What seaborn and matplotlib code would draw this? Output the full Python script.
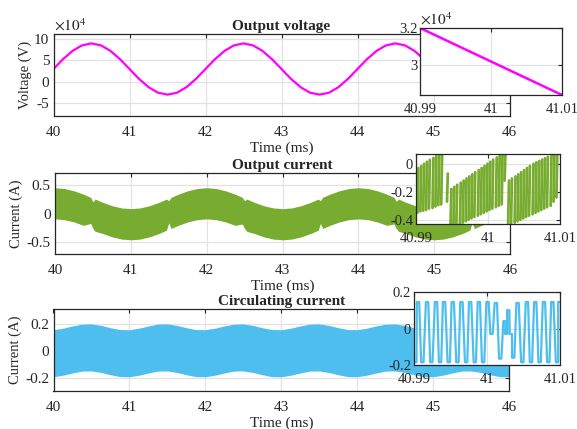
import matplotlib
matplotlib.use("Agg")
import matplotlib.pyplot as plt
import numpy as np
import pandas as pd
import seaborn as sns

# ---- data ------------------------------------------------------------------
# main traces, every 0.125 ms from 40 to 46 ms
time_ms = [40.0, 40.125, 40.25, 40.375, 40.5, 40.625, 40.75, 40.875,
           41.0, 41.125, 41.25, 41.375, 41.5, 41.625, 41.75, 41.875,
           42.0, 42.125, 42.25, 42.375, 42.5, 42.625, 42.75, 42.875,
           43.0, 43.125, 43.25, 43.375, 43.5, 43.625, 43.75, 43.875,
           44.0, 44.125, 44.25, 44.375, 44.5, 44.625, 44.75, 44.875,
           45.0, 45.125, 45.25, 45.375, 45.5, 45.625, 45.75, 45.875, 46.0]

# output voltage, x1e4 V
volt = [3.0, 5.3, 7.24, 8.54, 9.0, 8.54, 7.24, 5.3,
        3.0, 0.7, -1.24, -2.54, -3.0, -2.54, -1.24, 0.7,
        3.0, 5.3, 7.24, 8.54, 9.0, 8.54, 7.24, 5.3,
        3.0, 0.7, -1.24, -2.54, -3.0, -2.54, -1.24, 0.7,
        3.0, 5.3, 7.24, 8.54, 9.0, 8.54, 7.24, 5.3,
        3.0, 0.7, -1.24, -2.54, -3.0, -2.54, -1.24, 0.7, 3.0]

# output current envelope (A)
cur_hi = [0.46, 0.446, 0.406, 0.346, 0.275, 0.204, 0.144, 0.104,
          0.09, 0.104, 0.144, 0.204, 0.275, 0.346, 0.406, 0.446,
          0.46, 0.446, 0.406, 0.346, 0.275, 0.204, 0.144, 0.104,
          0.09, 0.104, 0.144, 0.204, 0.275, 0.346, 0.406, 0.446,
          0.46, 0.446, 0.406, 0.346, 0.275, 0.204, 0.144, 0.104,
          0.09, 0.104, 0.144, 0.204, 0.275, 0.346, 0.406, 0.446, 0.46]
cur_lo = [-0.09, -0.104, -0.144, -0.204, -0.275, -0.346, -0.406, -0.446,
          -0.46, -0.446, -0.406, -0.346, -0.275, -0.204, -0.144, -0.104,
          -0.09, -0.104, -0.144, -0.204, -0.275, -0.346, -0.406, -0.446,
          -0.46, -0.446, -0.406, -0.346, -0.275, -0.204, -0.144, -0.104,
          -0.09, -0.104, -0.144, -0.204, -0.275, -0.346, -0.406, -0.446,
          -0.46, -0.446, -0.406, -0.346, -0.275, -0.204, -0.144, -0.104, -0.09]

# little glitches in the current envelope around every half millisecond
notch_t = [40.47, 40.5, 40.53, 41.47, 41.5, 41.53, 42.47, 42.5, 42.53,
           43.47, 43.5, 43.53, 44.47, 44.5, 44.53, 45.47, 45.5, 45.53]
notch_hi = [0.29, 0.21, 0.26, 0.26, 0.23, 0.29, 0.29, 0.23, 0.26,
            0.26, 0.23, 0.29, 0.29, 0.22, 0.26, 0.26, 0.23, 0.29]
notch_lo = [-0.17, -0.26, -0.31, -0.29, -0.16, -0.26, -0.18, -0.26, -0.31,
            -0.29, -0.17, -0.26, -0.18, -0.26, -0.31, -0.29, -0.16, -0.26]

# circulating current envelope (A)
circ_hi = [0.156, 0.167, 0.184, 0.197, 0.199, 0.188, 0.171, 0.157,
           0.156, 0.167, 0.184, 0.197, 0.199, 0.188, 0.171, 0.157,
           0.156, 0.167, 0.184, 0.197, 0.199, 0.188, 0.171, 0.157,
           0.156, 0.167, 0.184, 0.197, 0.199, 0.188, 0.171, 0.157,
           0.156, 0.167, 0.184, 0.197, 0.199, 0.188, 0.171, 0.157,
           0.156, 0.167, 0.184, 0.197, 0.199, 0.188, 0.171, 0.157, 0.156]
circ_lo = [-0.194, -0.183, -0.166, -0.152, -0.151, -0.162, -0.179, -0.193,
           -0.194, -0.183, -0.166, -0.152, -0.151, -0.162, -0.179, -0.193,
           -0.194, -0.183, -0.166, -0.152, -0.151, -0.162, -0.179, -0.193,
           -0.194, -0.183, -0.166, -0.152, -0.151, -0.162, -0.179, -0.193,
           -0.194, -0.183, -0.166, -0.152, -0.151, -0.162, -0.179, -0.193,
           -0.194, -0.183, -0.166, -0.152, -0.151, -0.162, -0.179, -0.193, -0.194]

# zoomed voltage 40.99 .. 41.01 ms (x1e4 V)
zv_t = [40.99, 41.0, 41.01]
zv_v = [3.2, 3.02, 2.84]

# zoomed output current: one switching spike per entry
zi_t = [40.9902, 40.9906, 40.9910, 40.9914, 40.9918, 40.9923, 40.9927, 40.9931, 40.9935,
        40.9943,
        40.9948, 40.9952, 40.9956, 40.9961, 40.9965, 40.9969, 40.9973, 40.9977, 40.9981,
        40.9986, 40.9990, 40.9994, 40.9998, 41.0002, 41.0006, 41.0011, 41.0015, 41.0019, 41.0023,
        41.0028, 41.0032, 41.0037, 41.0041, 41.0045, 41.0049, 41.0053, 41.0057, 41.0062,
        41.0066, 41.0070, 41.0074, 41.0078, 41.0082, 41.0087, 41.0091, 41.0095]
zi_hi = [-0.03, -0.016, 0.0, 0.014, 0.028, 0.042, 0.056, 0.066, 0.066,
         -0.07,
         -0.18, -0.165, -0.15, -0.135, -0.12, -0.105, -0.09, -0.075, -0.06,
         -0.045, -0.03, -0.015, 0.0, 0.015, 0.03, 0.045, 0.06, 0.07, 0.07,
         -0.12, -0.105, -0.09, -0.075, -0.06, -0.045, -0.03, -0.015, 0.0,
         0.01, 0.02, 0.03, 0.04, 0.05, 0.06, 0.07, 0.07]
zi_lo = [-0.35, -0.34, -0.335, -0.33, -0.32, -0.315, -0.305, -0.295, -0.29,
         -0.27,
         -0.43, -0.43, -0.43, -0.43, -0.42, -0.41, -0.40, -0.39, -0.38,
         -0.37, -0.36, -0.35, -0.34, -0.33, -0.32, -0.31, -0.30, -0.29, -0.12,
         -0.43, -0.43, -0.42, -0.41, -0.40, -0.39, -0.38, -0.37, -0.36,
         -0.35, -0.34, -0.33, -0.32, -0.31, -0.30, -0.27, -0.24]

# zoomed circulating current: turning points of the oscillation
zc_t = [40.99018, 40.99055, 40.99114, 40.99179, 40.99238, 40.99302, 40.99357, 40.99412,
        40.99476, 40.99531, 40.99595, 40.99650, 40.99714, 40.99769, 40.99833, 40.99888,
        40.99947, 41.00007, 41.00062, 41.00121, 41.00181, 41.00240, 41.00263, 41.00291,
        41.00327, 41.00359, 41.00419, 41.00483, 41.00547, 41.00602, 41.00661, 41.00721,
        41.00780, 41.00840, 41.00895, 41.00959, 41.00991]
zc_v = [-0.185, 0.145, -0.185, 0.145, -0.185, 0.145, -0.185, 0.145,
        -0.185, 0.145, -0.185, 0.145, -0.185, 0.145, -0.185, 0.145,
        -0.185, 0.145, -0.03, 0.14, -0.165, 0.04, -0.03, 0.10,
        -0.03, -0.16, 0.14, -0.185, 0.145, -0.185, 0.145, -0.185,
        0.145, -0.185, 0.145, -0.185, 0.145]

MAGENTA = "#FF00FF"
GREEN = "#77AC30"
BLUE = "#4DBEEE"
AXCOL = "#262626"
FS = 11

sns.set_theme(style="white")
plt.rcParams["font.family"] = ["Liberation Serif", "DejaVu Serif"]
plt.rcParams["mathtext.fontset"] = "stix"
plt.rcParams["axes.unicode_minus"] = False
plt.rcParams["font.size"] = FS

W, H = 577, 429
fig = plt.figure(figsize=(W / 100, H / 100), dpi=100)


def add_ax(left, top, right, bottom):
    return fig.add_axes([left / W, 1 - bottom / H, (right - left) / W, (bottom - top) / H])


def style(ax, pad_x=7, pad_y=3, size=FS):
    ax.grid(True, color="#e2e2e2", linewidth=0.9)
    ax.set_axisbelow(True)
    ax.tick_params(axis="both", direction="in", top=True, right=True, length=3,
                   width=0.8, colors=AXCOL, labelsize=size)
    ax.tick_params(axis="x", pad=pad_x)
    ax.tick_params(axis="y", pad=pad_y)
    for sp in ax.spines.values():
        sp.set_visible(True)
        sp.set_color(AXCOL)
        sp.set_linewidth(0.9)


def main_axes(ax, title, ylabel, label_x):
    ax.set_xlim(40, 46)
    ax.set_xticks([40, 41, 42, 43, 44, 45, 46])
    ax.set_xlabel("Time (ms)", fontsize=FS, labelpad=2)
    ax.set_ylabel(ylabel, fontsize=FS - 0.5)
    ax.yaxis.set_label_coords(label_x, 0.5)
    ax.set_title(title, fontsize=FS, fontweight="bold", pad=3)
    style(ax)


def zoom_axes(ax):
    ax.set_xlim(40.99, 41.01)
    ax.set_xticks([40.99, 41.0, 41.01])
    ax.set_xticklabels(["40.99", "41", "41.01"])
    ax.set_facecolor("white")
    style(ax, pad_x=6, pad_y=2, size=FS - 0.5)
    ax.set_xlabel("")
    ax.set_ylabel("")


# ---- panel 1: output voltage ----------------------------------------------
ax1 = add_ax(53.5, 34, 509.5, 116)
sns.lineplot(x=time_ms, y=volt, ax=ax1, color=MAGENTA, linewidth=1.6)
ax1.set_ylim(-8, 11.2)
ax1.set_yticks([-5, 0, 5, 10])
main_axes(ax1, "Output voltage", "Voltage (V)", -0.047)
ax1.text(0.0, 1.0, r"$\times10^{4}$", transform=ax1.transAxes, ha="left", va="bottom",
         fontsize=FS, color=AXCOL)

# ---- panel 2: output current ----------------------------------------------
base = pd.DataFrame({"t": time_ms, "hi": cur_hi, "lo": cur_lo})
notch = pd.DataFrame({"t": notch_t, "hi": notch_hi, "lo": notch_lo})
cur = (pd.concat([notch, base]).drop_duplicates("t", keep="first")
       .sort_values("t").reset_index(drop=True))
ax2 = add_ax(55, 173, 510, 254)
ax2.fill_between(cur["t"], cur["lo"], cur["hi"], color=GREEN, linewidth=0)
ax2.set_ylim(-0.71, 0.72)
ax2.set_yticks([-0.5, 0, 0.5])
ax2.set_yticklabels(["-0.5", "0", "0.5"])
main_axes(ax2, "Output current", "Current (A)", -0.070)

# ---- panel 3: circulating current -----------------------------------------
ax3 = add_ax(53.5, 309, 509, 391)
ax3.fill_between(time_ms, circ_lo, circ_hi, color=BLUE, linewidth=0)
ax3.set_ylim(-0.3, 0.31)
ax3.set_yticks([-0.2, 0, 0.2])
ax3.set_yticklabels(["-0.2", "0", "0.2"])
main_axes(ax3, "Circulating current", "Current (A)", -0.069)

# ---- zoom insets ----------------------------------------------------------
in1 = add_ax(420, 28, 562, 95)
sns.lineplot(x=zv_t, y=zv_v, ax=in1, color=MAGENTA, linewidth=1.8)
in1.set_ylim(2.84, 3.2)
in1.set_yticks([3.0, 3.2])
in1.set_yticklabels(["3", "3.2"])
zoom_axes(in1)
in1.text(0.0, 1.0, r"$\times10^{4}$", transform=in1.transAxes, ha="left", va="bottom",
         fontsize=FS, color=AXCOL)

# each switching spike drawn as its own short stroke
RISE = 0.00012
in2 = add_ax(416, 154, 560, 224)
zi = pd.DataFrame({"t": zi_t, "hi": zi_hi, "lo": zi_lo})
zi["spike"] = np.arange(len(zi))
strokes = pd.concat([
    pd.DataFrame({"t": zi["t"], "v": zi["lo"], "spike": zi["spike"]}),
    pd.DataFrame({"t": zi["t"] + RISE, "v": zi["hi"], "spike": zi["spike"]}),
])
sns.lineplot(data=strokes, x="t", y="v", units="spike", estimator=None, ax=in2,
             color=GREEN, linewidth=2.0)
in2.set_ylim(-0.43, 0.07)
in2.set_yticks([-0.4, -0.2, 0])
in2.set_yticklabels(["-0.4", "-0.2", "0"])
zoom_axes(in2)

HOLD = 0.00016  # flat top/bottom half-width of each oscillation
in3 = add_ax(414, 292, 560, 365)
zc = pd.DataFrame({"t": zc_t, "v": zc_v})
path_t = np.column_stack([zc["t"] - HOLD, zc["t"] + HOLD]).ravel()
path_v = np.column_stack([zc["v"], zc["v"]]).ravel()
sns.lineplot(x=path_t, y=path_v, ax=in3, color=BLUE, linewidth=1.6, sort=False, estimator=None)
in3.set_ylim(-0.2, 0.2)
in3.set_yticks([-0.2, 0, 0.2])
in3.set_yticklabels(["-0.2", "0", "0.2"])
zoom_axes(in3)

fig.savefig("out.png", dpi=100)
